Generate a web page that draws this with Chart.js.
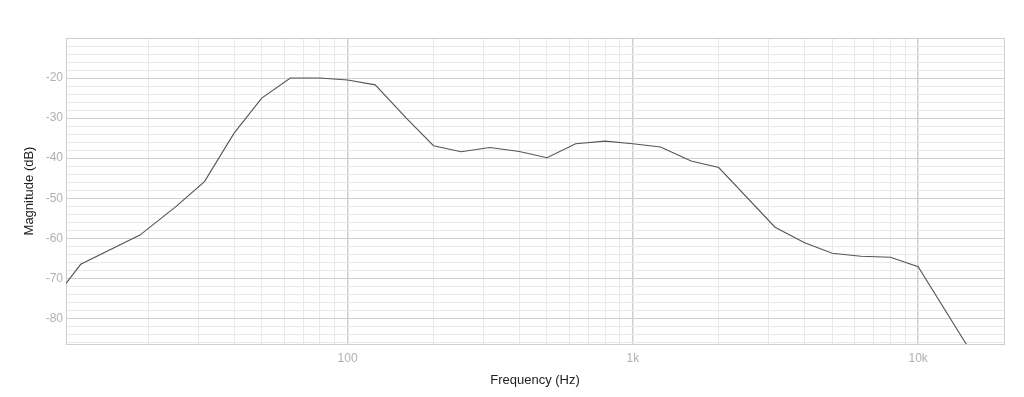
<!DOCTYPE html>
<html>
<head>
<meta charset="utf-8">
<script src="https://cdn.jsdelivr.net/npm/chart.js@4/dist/chart.umd.min.js"></script>
<style>
  html, body { margin: 0; padding: 0; background: #fff; }
  #wrap { width: 1024px; height: 397px; }
</style>
</head>
<body>
<div id="wrap"><canvas id="response-chart" width="1024" height="397"></canvas></div>
<script>
// ---------------- Data ---------------- //
const frequencies = [10.3, 11.6, 18.7, 25, 31.5, 40, 50, 63, 80, 100, 125, 160, 200, 250, 315,
  400, 500, 630, 800, 1000, 1250, 1600, 2000, 3150, 4000, 5000, 6300, 8000, 10000, 16000];
const magnitudes = [-71.25, -66.5, -59.2, -52.1, -45.85, -33.75, -25, -20, -20, -20.5, -21.7, -29.9, -36.9, -38.4, -37.35,
  -38.35, -39.9, -36.4, -35.75, -36.4, -37.2, -40.7, -42.35, -57.25, -61.1, -63.75, -64.5, -64.75, -67.1, -90.5];

const freqTicks = [20, 30, 40, 50, 60, 70, 80, 90, 100, 200, 300, 400, 500, 600, 700, 800, 900,
  1000, 2000, 3000, 4000, 5000, 6000, 7000, 8000, 9000, 10000, 20000];
const freqLabels = { 100: '100', 1000: '1k', 10000: '10k' };
const dbTicks = [];
for (let v = -86; v <= -10; v += 2) dbTicks.push(v);
const dbLabels = [-20, -30, -40, -50, -60, -70, -80];

const freqMin = 10.3, freqMax = 20000;
const dbMin = -86.4, dbMax = -10;

// ---------------- Styles ---------------- //
const majorGrid = '#cfcfcf';
const minorGrid = '#e9e9e9';
const tickColor = '#b0b0b0';
const font = "'Liberation Sans', 'Helvetica Neue', Arial, sans-serif";

const points = frequencies.map((f, i) => ({ x: f, y: magnitudes[i] }));

const chartCanvas = document.getElementById('response-chart');

new Chart(chartCanvas, {
  type: 'line',
  data: {
    datasets: [{
      data: points,
      borderColor: '#555555',
      borderWidth: 1.1,
      pointRadius: 0,
      tension: 0,
      fill: false
    }]
  },
  options: {
    responsive: false,
    animation: false,
    layout: { padding: { top: 38, right: 20, bottom: 0, left: 0 } },
    plugins: { legend: { display: false }, tooltip: { enabled: false } },
    scales: {
      x: {
        type: 'logarithmic',
        min: freqMin,
        max: freqMax,
        afterBuildTicks: scale => { scale.ticks = freqTicks.map(v => ({ value: v })); },
        afterFit: scale => { scale.height = 53; },
        ticks: {
          autoSkip: false,
          maxRotation: 0,
          padding: 7,
          color: tickColor,
          font: { family: font, size: 12 },
          callback: v => freqLabels[v] || ''
        },
        grid: {
          drawTicks: false,
          color: ctx => {
            const v = ctx.tick && ctx.tick.value;
            return (v === 100 || v === 1000 || v === 10000 || v === 20000) ? majorGrid : minorGrid;
          },
          lineWidth: ctx => {
            const v = ctx.tick && ctx.tick.value;
            return (v === 100 || v === 1000 || v === 10000) ? 1.5 : 1;
          }
        },
        border: { color: majorGrid, width: 1 },
        title: {
          display: true,
          text: 'Frequency (Hz)',
          color: '#222',
          font: { family: font, size: 13 },
          padding: { top: 0, bottom: 8.5 }
        }
      },
      y: {
        type: 'linear',
        min: dbMin,
        max: dbMax,
        afterBuildTicks: scale => { scale.ticks = dbTicks.map(v => ({ value: v })); },
        afterFit: scale => { scale.width = 66; },
        ticks: {
          autoSkip: false,
          padding: 3,
          color: tickColor,
          font: { family: font, size: 12 },
          callback: v => dbLabels.includes(v) ? String(v) : ''
        },
        grid: {
          drawTicks: false,
          color: ctx => (ctx.tick && ctx.tick.value % 10 === 0) ? majorGrid : minorGrid
        },
        border: { color: majorGrid, width: 1 },
        title: {
          display: true,
          text: 'Magnitude (dB)',
          color: '#222',
          font: { family: font, size: 13 },
          padding: { top: 22, bottom: 0 }
        }
      }
    }
  }
});
</script>
</body>
</html>
